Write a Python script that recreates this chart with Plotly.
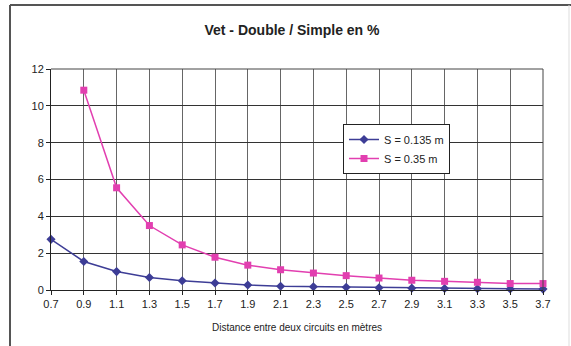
import plotly.graph_objects as go

distances = ["0.7", "0.9", "1.1", "1.3", "1.5", "1.7", "1.9", "2.1", "2.3", "2.5",
             "2.7", "2.9", "3.1", "3.3", "3.5", "3.7"]
s_0135 = [2.75, 1.55, 1.0, 0.68, 0.5, 0.38, 0.27, 0.2, 0.18, 0.15,
          0.12, 0.1, 0.08, 0.07, 0.06, 0.05]
s_035 = [None, 10.85, 5.55, 3.5, 2.45, 1.78, 1.35, 1.1, 0.92, 0.78,
         0.65, 0.53, 0.47, 0.42, 0.35, 0.35]
y_ticks = [0, 2, 4, 6, 8, 10, 12]

blue = "#3d3d96"
pink = "#e23fb0"

fig = go.Figure()
fig.add_trace(go.Scatter(x=distances, y=s_0135, name="S = 0.135 m", mode="lines+markers",
                         line=dict(color=blue, width=1.5),
                         marker=dict(symbol="diamond", size=7, color=blue),
                         cliponaxis=False))
fig.add_trace(go.Scatter(x=distances, y=s_035, name="S = 0.35 m", mode="lines+markers",
                         line=dict(color=pink, width=1.5),
                         marker=dict(symbol="square", size=7, color=pink),
                         cliponaxis=False))

L, R, T, B = 51, 543, 69, 290
W, H = 571, 346
def px(x):
    return (x - L) / (R - L)
def py(y):
    return (B - y) / (B - T)

fig.update_layout(
    width=W, height=H,
    margin=dict(l=L, r=W - R, t=T, b=H - B),
    paper_bgcolor="white", plot_bgcolor="white",
    font=dict(family="Liberation Sans, Arial, sans-serif", color="#222", size=11),
    title=dict(text="<b>Vet - Double / Simple en %</b>", x=292 / W, xanchor="center",
               y=1 - 30 / H, yanchor="middle", font=dict(size=14, color="#222")),
    showlegend=True,
    legend=dict(x=px(343), y=py(124), xanchor="left", yanchor="top",
                bordercolor="#222", borderwidth=1, bgcolor="white",
                font=dict(size=11), tracegroupgap=0, itemwidth=30),
    xaxis=dict(type="category", range=[0, len(distances) - 1],
               showgrid=True, gridcolor="#666", gridwidth=1,
               showline=True, linecolor="#222", linewidth=1,
               ticks="outside", ticklen=4, tickcolor="#222",
               tickfont=dict(size=11),
               title=dict(text="Distance entre deux circuits en mètres",
                          font=dict(size=10), standoff=14)),
    yaxis=dict(range=[0, 12], tickvals=y_ticks,
               showgrid=True, gridcolor="#333", gridwidth=1,
               showline=True, linecolor="#222", linewidth=1,
               ticks="outside", ticklen=4, tickcolor="#222",
               tickfont=dict(size=11), zeroline=False),
    shapes=[
        dict(type="line", xref="paper", yref="paper",
             x0=px(10), x1=px(571), y0=py(5), y1=py(5),
             line=dict(color="#555", width=2), layer="below"),
        dict(type="line", xref="paper", yref="paper",
             x0=px(10), x1=px(10), y0=py(5), y1=py(346),
             line=dict(color="#555", width=2), layer="below"),
        dict(type="line", xref="paper", yref="paper",
             x0=px(569), x1=px(569), y0=py(5), y1=py(346),
             line=dict(color="#ddd", width=1), layer="below"),
        dict(type="line", xref="paper", yref="paper",
             x0=1, x1=1, y0=0, y1=1, line=dict(color="#444", width=1)),
        dict(type="line", xref="paper", yref="paper",
             x0=0, x1=1, y0=1, y1=1, line=dict(color="#444", width=1)),
    ],
)

fig.write_html("out.html", config={"displayModeBar": False},
               post_script="document.body.style.margin='0px';")
